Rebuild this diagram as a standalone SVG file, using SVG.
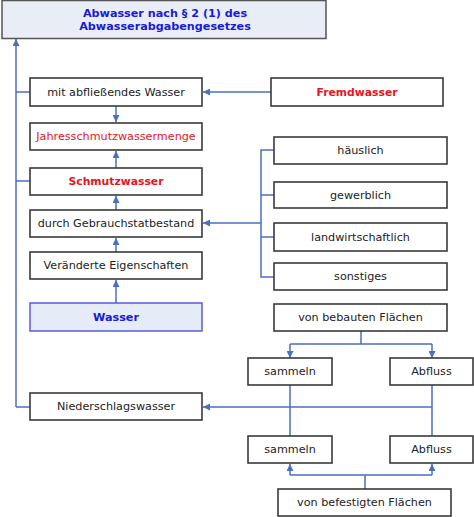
<svg xmlns="http://www.w3.org/2000/svg" width="474" height="517" viewBox="0 0 474 517">
<defs>
<marker id="ah" viewBox="0 0 10 10" refX="10" refY="5" markerWidth="7" markerHeight="7" markerUnits="userSpaceOnUse" orient="auto">
<path d="M0,0 L10,5 L0,10 z" fill="#4a70c0"/>
</marker>
<style>
.box{fill:#ffffff;stroke:#3a3a3a;stroke-width:1.6}
.t{font-family:"DejaVu Sans",Verdana,sans-serif;font-size:11.2px;fill:#222;text-anchor:middle;dominant-baseline:central}
.red{fill:#e8141e;font-weight:bold;font-size:10.8px}
.redn{fill:#e8141e}
.blue{fill:#1a1ad8;font-weight:bold;font-size:11.2px}
.c{fill:none;stroke:#4a70c0;stroke-width:1.5}
.a{marker-end:url(#ah)}
</style>
</defs>
<rect width="474" height="517" fill="#ffffff"/>
<g id="connectors">
<path class="c a" d="M16,407 V39"/>
<path class="c" d="M16,92 H30 M16,181 H30 M16,407 H30"/>
<path class="c a" d="M271,92 H203"/>
<path class="c a" d="M116,106 V122"/>
<path class="c a" d="M116,168 V151"/>
<path class="c a" d="M116,210 V196"/>
<path class="c a" d="M116,252 V238"/>
<path class="c a" d="M116,303 V280"/>
<path class="c" d="M274,150 H261 V277 H274 M261,195 H274 M261,237 H274"/>
<path class="c a" d="M261,223 H203"/>
<path class="c" d="M361,331 V344 H290 M361,344 H432"/>
<path class="c a" d="M290,344 V358"/>
<path class="c a" d="M432,344 V358"/>
<path class="c" d="M290,385 V436 M432,385 V436"/>
<path class="c a" d="M432,407 H203"/>
<path class="c" d="M365,489 V475 H290 M365,475 H432"/>
<path class="c a" d="M290,475 V464"/>
<path class="c a" d="M432,475 V464"/>
</g>
<g id="n-abwasser">
<rect x="2" y="0.5" width="324" height="38" fill="#e9eef6" stroke="#555" stroke-width="1.5"/>
<text class="t blue" x="165" y="13">Abwasser nach § 2 (1) des</text>
<text class="t blue" x="165" y="26">Abwasserabgabengesetzes</text>
</g>
<g id="n-mit"><rect class="box" x="30" y="78" width="172" height="28"/><text class="t" x="116" y="92">mit abfließendes Wasser</text></g>
<g id="n-jahres"><rect class="box" x="30" y="123" width="172" height="27"/><text class="t redn" x="116" y="136.5">Jahresschmutzwassermenge</text></g>
<g id="n-schmutz"><rect class="box" x="30" y="168" width="172" height="27"/><text class="t red" x="116" y="181.5">Schmutzwasser</text></g>
<g id="n-durch"><rect class="box" x="30" y="210" width="172" height="27"/><text class="t" x="116" y="223.5">durch Gebrauchstatbestand</text></g>
<g id="n-veraendert"><rect class="box" x="30" y="252" width="172" height="27"/><text class="t" x="116" y="265.5">Veränderte Eigenschaften</text></g>
<g id="n-wasser"><rect x="30" y="303" width="172" height="28" fill="#e6ebf8" stroke="#5a5ad8" stroke-width="1.5"/><text class="t blue" x="116" y="317">Wasser</text></g>
<g id="n-nieder"><rect class="box" x="30" y="393" width="172" height="27"/><text class="t" x="116" y="406.5">Niederschlagswasser</text></g>
<g id="n-fremd"><rect class="box" x="271" y="78" width="172" height="28"/><text class="t red" x="357" y="92">Fremdwasser</text></g>
<g id="n-haeuslich"><rect class="box" x="274" y="137" width="173" height="27"/><text class="t" x="360.5" y="150.5">häuslich</text></g>
<g id="n-gewerblich"><rect class="box" x="274" y="182" width="173" height="26"/><text class="t" x="360.5" y="195">gewerblich</text></g>
<g id="n-landw"><rect class="box" x="274" y="223" width="173" height="28"/><text class="t" x="360.5" y="237">landwirtschaftlich</text></g>
<g id="n-sonst"><rect class="box" x="274" y="263" width="173" height="27"/><text class="t" x="360.5" y="276.5">sonstiges</text></g>
<g id="n-bebaut"><rect class="box" x="274" y="304" width="173" height="27"/><text class="t" x="360.5" y="317.5">von bebauten Flächen</text></g>
<g id="n-sammeln1"><rect class="box" x="248" y="358" width="84" height="27"/><text class="t" x="290" y="371.5">sammeln</text></g>
<g id="n-abfluss1"><rect class="box" x="390" y="358" width="83" height="27"/><text class="t" x="431.5" y="371.5">Abfluss</text></g>
<g id="n-sammeln2"><rect class="box" x="248" y="436" width="84" height="27"/><text class="t" x="290" y="449.5">sammeln</text></g>
<g id="n-abfluss2"><rect class="box" x="390" y="436" width="83" height="27"/><text class="t" x="431.5" y="449.5">Abfluss</text></g>
<g id="n-befestigt"><rect class="box" x="278" y="489" width="173" height="27"/><text class="t" x="364.5" y="502.5">von befestigten Flächen</text></g>
</svg>
